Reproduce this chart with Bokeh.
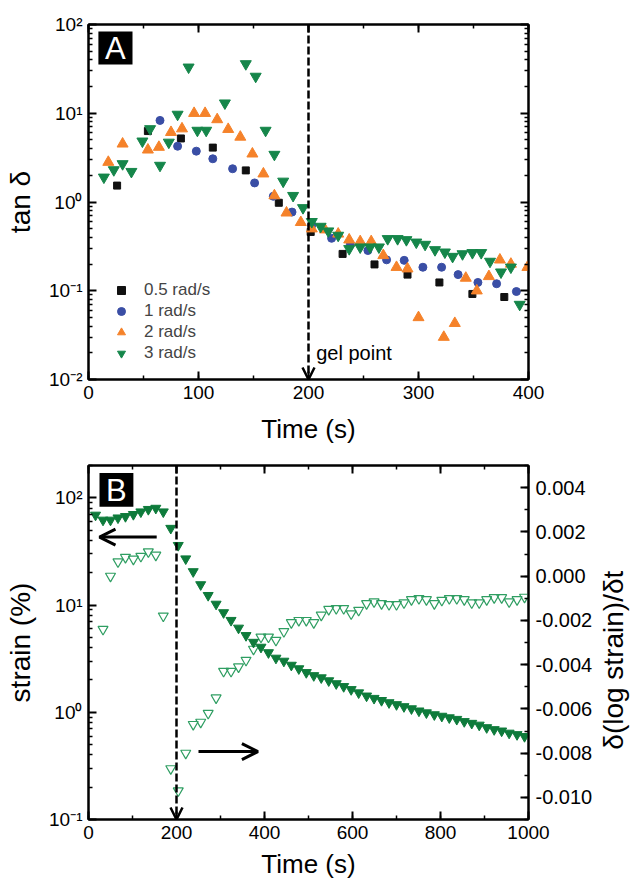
import math
from bokeh.plotting import figure
from bokeh.models import (LogAxis, LinearAxis, Range1d, LinearScale, Arrow, OpenHead, Label,
                          Legend, LegendItem, CustomJSTickFormatter, SingleIntervalTicker, FixedTicker,
                          BoxAnnotation)
from bokeh.layouts import column, row
from bokeh.embed import file_html
from bokeh.resources import INLINE

FONT = "Liberation Sans"

# ---------------- Panel A data: tan delta vs time ----------------
t_05 = [26, 54, 84, 113, 143, 173, 202, 231, 260, 290, 319, 349, 378]
tan_05 = [1.53, 6.3, 5.2, 4.1, 2.27, 0.98, 0.46, 0.26, 0.198, 0.152, 0.124, 0.092, 0.085]

t_1 = [65, 81, 98, 113, 131, 151, 168, 185, 203, 221, 238, 254, 271, 287, 304, 321, 336, 354, 371, 389]
tan_1 = [8.3, 4.25, 3.74, 3.07, 2.37, 1.64, 1.16, 0.77, 0.55, 0.39, 0.33, 0.284, 0.223, 0.22, 0.184,
         0.184, 0.152, 0.124, 0.12, 0.098]

t_2 = [18, 31, 54, 64, 75, 85, 96, 106, 117, 127, 138, 149, 159, 169, 180, 193, 203, 215, 227, 237,
       247, 257, 268, 280, 290, 300, 323, 333, 343, 353, 364, 374, 384, 399]
tan_2 = [2.81, 4.52, 3.87, 4.15, 6.1, 6.7, 10.0, 10.0, 8.5, 6.6, 5.4, 3.49, 2.08, 1.18, 0.755, 0.59,
         0.5, 0.487, 0.437, 0.375, 0.359, 0.359, 0.25, 0.184, 0.177, 0.05, 0.030, 0.043, 0.139, 0.10,
         0.145, 0.223, 0.20, 0.184]

t_3 = [14, 23, 31, 39, 49, 56, 65, 73, 81, 91, 99, 107, 124, 143, 152, 161, 169, 177, 186, 195,
       203, 211, 218, 227, 237, 247, 256, 264, 272, 281, 289, 298, 306, 315, 324, 331, 340, 349,
       357, 365, 375, 384, 392]
tan_3 = [1.9, 2.3, 2.69, 2.2, 4.84, 6.67, 2.58, 4.7, 9.7, 33, 6.4, 6.4, 13, 36, 26, 6.4, 3.43, 1.71,
         1.18, 0.86, 0.6, 0.53, 0.47, 0.42, 0.297, 0.31, 0.31, 0.31, 0.385, 0.385, 0.375, 0.352,
         0.332, 0.289, 0.272, 0.243, 0.26, 0.268, 0.268, 0.214, 0.162, 0.184, 0.07]

# ---------------- Panel B data: strain and d(log strain)/dt vs time ----------------
t_strain = [16, 33, 50, 67, 84, 102, 119, 136, 153, 170, 187, 204, 221, 238, 255, 272, 290, 307,
            324, 341, 358, 375, 392, 409, 426, 444, 461, 478, 495, 512, 529, 546, 563, 580, 597,
            614, 632, 649, 666, 683, 700, 717, 734, 751, 768, 786, 803, 820, 837, 854, 871, 888,
            905, 922, 939, 956, 974, 991]
strain = [69, 62, 62, 65, 67, 70, 74, 78, 80, 74, 52, 36, 27, 20.5, 15.5, 12.3, 10.2, 8.5, 7.2, 6.1,
          5.2, 4.5, 4.05, 3.6, 3.2, 3.0, 2.75, 2.55, 2.35, 2.2, 2.1, 1.97, 1.85, 1.74, 1.63, 1.52,
          1.42, 1.35, 1.29, 1.23, 1.18, 1.13, 1.08, 1.03, 0.99, 0.95, 0.92, 0.89, 0.86, 0.82, 0.79,
          0.76, 0.72, 0.69, 0.67, 0.64, 0.62, 0.595]

t_rate = t_strain[1:]
rate = [-0.0024, 0.0000, 0.00065, 0.00085, 0.00077, 0.0009, 0.0011, 0.00095, -0.0018, -0.0087,
        -0.0097, -0.0080, -0.0067, -0.0066, -0.0062, -0.0055, -0.0043, -0.0043, -0.0041, -0.0038,
        -0.0033, -0.00275, -0.00275, -0.0029, -0.0025, -0.0021, -0.0020, -0.0020, -0.0021,
        -0.00176, -0.0015, -0.00146, -0.00146, -0.0017, -0.00154, -0.00124, -0.00116, -0.00124,
        -0.00128, -0.00128, -0.0012, -0.00106, -0.00101, -0.00106, -0.00124, -0.00109, -0.00101,
        -0.00101, -0.00106, -0.0012, -0.0012, -0.00106, -0.00097, -0.00097, -0.00116, -0.00106,
        -0.00095]

GEL_T = 200
RATE_RANGE = (-0.011, 0.005)

BLACK = "#111111"
BLUE = "#3a4ea5"
ORANGE = "#f5822a"
GREEN = "#15864a"
GREEN_D = "#0e7b3b"
GREEN_L = "#2f9e62"


def log_fmt():
    return CustomJSTickFormatter(code="""
const e = Math.round(Math.log10(tick));
const sup = {'-':'\u207b','0':'\u2070','1':'\u00b9','2':'\u00b2','3':'\u00b3','4':'\u2074',
             '5':'\u2075','6':'\u2076','7':'\u2077','8':'\u2078','9':'\u2079'};
return '10' + String(e).split('').map(c => sup[c]).join('');
""")


def log_ticker(e0, e1):
    return FixedTicker(ticks=[10.0 ** e for e in range(e0, e1 + 1)],
                       minor_ticks=[m * 10.0 ** e for e in range(e0, e1 + 1) for m in range(2, 10)])


def style_axis(ax, label_size="26px"):
    ax.axis_line_width = 2
    ax.axis_line_color = "black"
    ax.major_tick_in = 8
    ax.major_tick_out = 0
    ax.minor_tick_in = 4
    ax.minor_tick_out = 0
    ax.major_tick_line_width = 2
    ax.minor_tick_line_width = 1.5
    ax.major_tick_line_color = "black"
    ax.minor_tick_line_color = "black"
    ax.major_label_text_font = FONT
    ax.major_label_text_font_size = "19px"
    ax.major_label_text_color = "black"
    ax.axis_label_text_font = FONT
    ax.axis_label_text_font_size = label_size
    ax.axis_label_text_font_style = "normal"
    ax.axis_label_text_color = "black"
    ax.major_label_standoff = 6
    ax.axis_label_standoff = 4


def mirror_axis(cls, ticker):
    ax = cls(ticker=ticker, major_label_text_alpha=0)
    style_axis(ax)
    ax.major_label_standoff = 0
    ax.major_label_text_font_size = "1px"
    return ax


def base_fig(xr, yr, fh, top, bottom, right, **kw):
    p = figure(frame_width=440, frame_height=fh, x_range=Range1d(*xr), y_range=Range1d(*yr),
               y_axis_type="log", output_backend="svg", toolbar_location=None,
               min_border_left=88, min_border_top=top, min_border_right=right,
               min_border_bottom=bottom,
               background_fill_color="white", border_fill_color="white", **kw)
    p.xgrid.visible = False
    p.ygrid.visible = False
    p.outline_line_color = "black"
    p.outline_line_width = 2
    return p


def tag(p, letter, left, right, bottom, top, xc, yc):
    p.add_layout(BoxAnnotation(left=left, right=right, bottom=bottom, top=top,
                               fill_color="black", fill_alpha=1, line_color=None))
    p.add_layout(Label(x=xc, y=yc, text=letter, text_font=FONT, text_font_size="31px",
                       text_color="white", text_align="center", text_baseline="middle"))


# ================= Panel A =================
pA = base_fig((0, 400), (0.01, 100), 355, 24, 70, 102)
pA.xaxis.ticker = SingleIntervalTicker(interval=100, num_minor_ticks=2)
pA.yaxis.ticker = log_ticker(-2, 2)
pA.yaxis.formatter = log_fmt()
pA.xaxis.axis_label = "Time (s)"
pA.yaxis.axis_label = "tan \u03b4"
style_axis(pA.xaxis[0])
style_axis(pA.yaxis[0], "28px")
pA.xaxis[0].axis_label_standoff = 12
pA.yaxis[0].axis_label_standoff = 10
pA.add_layout(mirror_axis(LinearAxis, SingleIntervalTicker(interval=100, num_minor_ticks=2)), "above")
pA.add_layout(mirror_axis(LogAxis, log_ticker(-2, 2)), "right")

r05 = pA.scatter(t_05, tan_05, marker="square", size=7, color=BLACK)
r1 = pA.scatter(t_1, tan_1, marker="circle", size=8, color=BLUE)
r2 = pA.scatter(t_2, tan_2, marker="triangle", size=11, color=ORANGE)
r3 = pA.scatter(t_3, tan_3, marker="inverted_triangle", size=11, color=GREEN)

pA.add_layout(Arrow(x_start=GEL_T, y_start=100, x_end=GEL_T, y_end=0.01, line_dash="8 3",
                    line_width=2.5, line_color="black",
                    end=OpenHead(size=12, line_width=2.5, line_color="black")))
pA.add_layout(Label(x=GEL_T + 7, y=0.02, text="gel point", text_font=FONT, text_font_size="20px",
                    text_color="black", text_baseline="alphabetic"))
tag(pA, "A", 9, 40, 35.4, 83.4, 24.5, 54.3)

leg = Legend(items=[LegendItem(label="0.5 rad/s", renderers=[r05]),
                    LegendItem(label="1 rad/s", renderers=[r1]),
                    LegendItem(label="2 rad/s", renderers=[r2]),
                    LegendItem(label="3 rad/s", renderers=[r3])],
             location=(23, 16))
leg.background_fill_alpha = 0
leg.border_line_alpha = 0
leg.label_text_font = FONT
leg.label_text_font_size = "17px"
leg.glyph_width = 20
leg.glyph_height = 20
leg.spacing = 1
leg.label_standoff = 13
leg.padding = 0
leg.margin = 0
pA.add_layout(leg)

# ================= Panel B =================
B_TOP, B_FH, B_BOTTOM = 16, 354, 62
pB = base_fig((0, 1000), (0.1, 200), B_FH, B_TOP, B_BOTTOM, 66,
              extra_y_ranges={"rate": Range1d(*RATE_RANGE)},
              extra_y_scales={"rate": LinearScale()})
pB.xaxis.ticker = SingleIntervalTicker(interval=200, num_minor_ticks=2)
pB.yaxis.ticker = log_ticker(-1, 2)
pB.yaxis.formatter = log_fmt()
pB.xaxis.axis_label = "Time (s)"
pB.yaxis.axis_label = "strain (%)"
style_axis(pB.xaxis[0])
style_axis(pB.yaxis[0], "28px")
pB.xaxis[0].axis_label_standoff = 7
pB.yaxis[0].axis_label_standoff = 10
pB.add_layout(mirror_axis(LinearAxis, SingleIntervalTicker(interval=200, num_minor_ticks=2)), "above")
rightB = LinearAxis(y_range_name="rate",
                    ticker=SingleIntervalTicker(interval=0.002, num_minor_ticks=2),
                    formatter=CustomJSTickFormatter(code="""
const v = Math.round(tick * 1000) / 1000;
return (v === 0 ? 0 : v).toFixed(3);
"""))
style_axis(rightB)
rightB.major_label_text_font_size = "20px"
rightB.major_label_standoff = 7
pB.add_layout(rightB, "right")

pB.scatter(t_rate, rate, y_range_name="rate", marker="inverted_triangle", size=10,
           fill_color=None, line_color=GREEN_L, line_width=1.2)
pB.scatter(t_strain, strain, marker="inverted_triangle", size=10, color=GREEN_D)

pB.add_layout(Arrow(x_start=GEL_T, y_start=200, x_end=GEL_T, y_end=0.1, line_dash="8 3",
                    line_width=2.5, line_color="black",
                    end=OpenHead(size=12, line_width=2.5, line_color="black")))
pB.add_layout(Arrow(x_start=155, y_start=43, x_end=25, y_end=43, line_width=3, line_color="black",
                    end=OpenHead(size=16, line_width=3, line_color="black")))
pB.add_layout(Arrow(x_start=250, y_start=0.43, x_end=385, y_end=0.43, line_width=3,
                    line_color="black", end=OpenHead(size=16, line_width=3, line_color="black")))
tag(pB, "B", 25, 102, 82.4, 170, 63.5, 118)

# right-hand axis title, reading bottom-to-top, in its own narrow strip
pL = figure(frame_width=36, frame_height=B_FH, x_range=Range1d(0, 1), y_range=Range1d(*RATE_RANGE),
            output_backend="svg", toolbar_location=None, x_axis_location=None,
            y_axis_location=None, min_border_left=0, min_border_right=0,
            min_border_top=B_TOP, min_border_bottom=B_BOTTOM)
pL.xgrid.visible = False
pL.ygrid.visible = False
pL.outline_line_color = None
pL.add_layout(Label(x=0.5, y=-0.0038, angle=math.pi / 2, text="\u03b4(log strain)/\u03b4t",
                    text_font=FONT, text_font_size="28px", text_color="black",
                    text_align="center", text_baseline="middle"))

layout = column(pA, row(pB, pL))
open("out.html", "w").write(file_html(layout, INLINE))
